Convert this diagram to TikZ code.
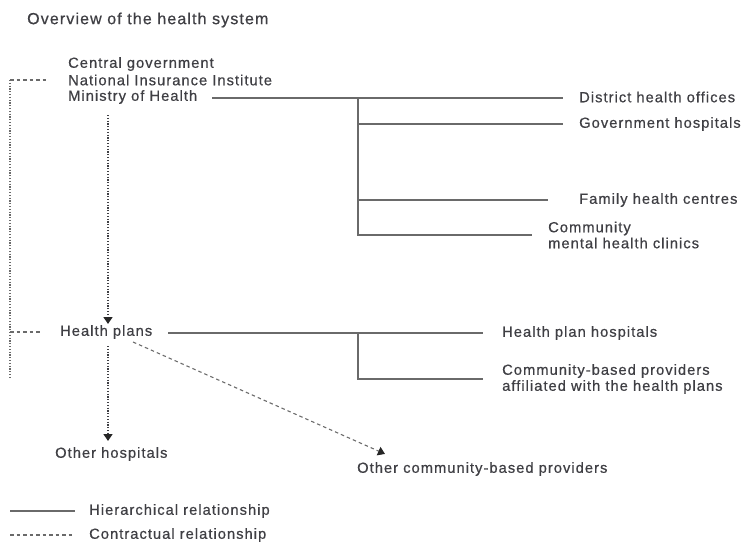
\documentclass[tikz,border=0pt]{standalone}
\usepackage{fontspec}
\setmainfont{Liberation Sans}[LetterSpace=7, FakeBold=0.6]
\usepackage{tikz}
\usetikzlibrary{arrows.meta,calc}

\definecolor{inkgray}{HTML}{3F3F44}
\definecolor{linegray}{HTML}{6A6A6A}

\begin{document}
\begin{tikzpicture}[x=1pt, y=-1pt,
    label/.style={anchor=west, inner sep=0pt, align=left, text=inkgray,
      font=\fontsize{14.7}{16}\selectfont},
    heading/.style={label, font=\fontsize{16}{18}\selectfont},
    hier/.style={draw=linegray, line width=1.1pt},
    contract/.style={draw=linegray, line width=1.1pt, dash pattern=on 3.5pt off 3pt},
    dots/.style={draw=inkgray, line width=1.3pt, dash pattern=on 1.2pt off 1.6pt},
    tip/.style={-{Triangle[width=9pt,length=7pt,color=black!85]}},
    reports/.style={dots, tip}]

\useasboundingbox (0,0) rectangle (743,542);

\node[heading] (title) at (27,20) {Overview of the health system};

% top level
\node[label] (central) at (68,64) {Central government};
\node[label] (nii) at (68,80) {National Insurance Institute};
\node[label] (moh) at (68,97) {Ministry of Health};

% public providers
\node[label] (dho) at (579,97) {District health offices};
\node[label] (govhosp) at (579,124) {Government hospitals};
\node[label] (fhc) at (579,200) {Family health centres};
\node[label] (cmhc) at (548,235) {Community\\mental health clinics};

% health plans and their providers
\node[label] (hplans) at (60,332) {Health plans};
\node[label] (hphosp) at (502,333) {Health plan hospitals};
\node[label] (cbp) at (502,379) {Community-based providers\\affiliated with the health plans};
\node[label] (othhosp) at (55,454) {Other hospitals};
\node[label] (othcbp) at (357,469) {Other community-based providers};

% legend
\node[label] (lg-hier) at (89,511) {Hierarchical relationship};
\node[label] (lg-contract) at (89,535) {Contractual relationship};

\coordinate (moh-split) at (358,98);
\coordinate (hp-split) at (358,333);
\coordinate (left-top) at (10,80);
\coordinate (left-bot) at (10,378);

% ministry tree
\draw[hier] ([xshift=144pt,yshift=-1pt]moh.west) -- ([xshift=-16pt,yshift=-1pt]dho.west);
\draw[hier] (moh-split) -- (moh-split |- cmhc.west) -- ([xshift=-16pt]cmhc.west);
\draw[hier] (moh-split |- govhosp.west) -- ([xshift=-16pt]govhosp.west);
\draw[hier] (moh-split |- fhc.west) -- ([xshift=-31pt]fhc.west);

% health plan tree
\draw[hier] ([xshift=108pt]hplans.west |- hphosp.west) -- ([xshift=-19pt]hphosp.west);
\draw[hier] (hp-split) -- (hp-split |- cbp.west) -- ([xshift=-19pt]cbp.west);

% contracts
\draw[contract] (left-top) -- ([xshift=-20pt]nii.west);
\draw[dots, draw=linegray, line width=1.1pt] (left-top) -- (left-bot);
\draw[contract] (left-bot |- hplans.west) -- ([xshift=-18pt]hplans.west);
\draw[contract, tip]
  ([xshift=73pt,yshift=-10pt]hplans.west) -- ([xshift=28pt,yshift=8pt]othcbp.north west);

% flows down the system
\draw[reports] ([xshift=48pt,yshift=-11pt]hplans.west |- moh.south) -- ([xshift=48pt,yshift=8pt]hplans.west);
\draw[reports] ([xshift=48pt,yshift=-14pt]hplans.west) -- ([xshift=48pt,yshift=13pt]hplans.west |- othhosp.west);

% legend samples
\draw[hier] ([xshift=-79pt]lg-hier.west) -- ([xshift=-14pt]lg-hier.west);
\draw[contract] ([xshift=-79pt]lg-contract.west) -- ([xshift=-14pt]lg-contract.west);
\end{tikzpicture}
\end{document}
